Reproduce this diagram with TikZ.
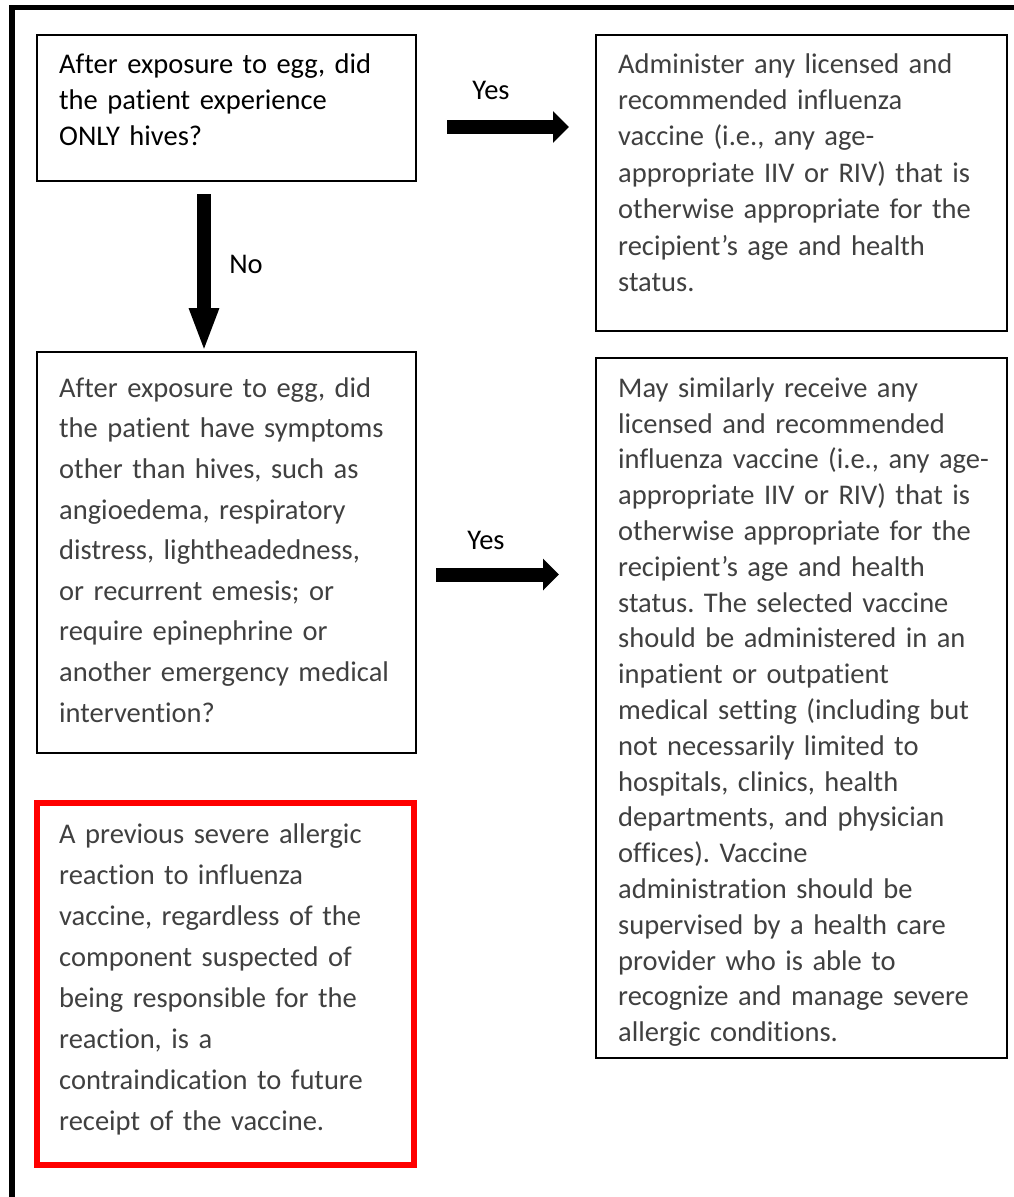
\documentclass[tikz,border=0pt]{standalone}
\usepackage{fontspec}
\setmainfont{Carlito}[Ligatures=NoCommon]
\usetikzlibrary{arrows.meta}
\definecolor{txtgray}{HTML}{404040}
\definecolor{boxred}{HTML}{FF0000}
\frenchspacing
\begin{document}
\begin{tikzpicture}[x=1pt,y=-1pt,
  box/.style={draw=black, line width=2pt, anchor=north west, inner sep=0pt, outer sep=0pt},
  redbox/.style={draw=boxred, line width=6pt, anchor=north west, inner sep=0pt, outer sep=0pt},
  txt/.style={anchor=north west, inner sep=0pt, text width=390pt, align=left},
  fsA/.style={font=\fontsize{28.5}{36.4}\selectfont},
  fsB/.style={font=\fontsize{28.5}{40.6}\selectfont},
  fsC/.style={font=\fontsize{28.5}{35.8}\selectfont},
  fsD/.style={font=\fontsize{28.5}{41.1}\selectfont},
  lbl/.style={font=\fontsize{28.5}{35}\selectfont, inner sep=0pt, anchor=base},
  fatarrow/.style={line width=14pt, -{Triangle[length=16pt,width=31pt]}},
  downarrow/.style={line width=14pt, -{Triangle[length=44pt,width=27pt]}},
]
\useasboundingbox (0,0) rectangle (1013,1197);
\fill[white] (0,0) rectangle (1013,1197);
% outer frame (cropped at right and bottom)
\draw[line width=5.5pt] (12,1220) -- (12,7.5) -- (1040,7.5);

% boxes
\node[box, minimum width=379pt, minimum height=146pt] (b1) at (37,35) {};
\node[box, minimum width=411pt, minimum height=296pt] (b2) at (596,35) {};
\node[box, minimum width=379pt, minimum height=401pt] (b3) at (37,352) {};
\node[box, minimum width=411pt, minimum height=700pt] (b4) at (596,358) {};
\node[redbox, minimum width=377pt, minimum height=362pt] (b5) at (37,803) {};

% texts
\node[txt, fsA, text=black] (t1) at (59,47.5) {\strut After exposure to egg, did\\the patient experience\\ONLY hives?};
\node[txt, fsA, text=txtgray] (t2) at (618,47.5) {\strut Administer any licensed and\\recommended influenza\\vaccine (i.e., any age-\\appropriate IIV or RIV) that is\\otherwise appropriate for the\\recipient’s age and health\\status.};
\node[txt, fsB, text=txtgray] (t3) at (59,368.6) {\strut After exposure to egg, did\\the patient have symptoms\\other than hives, such as\\angioedema, respiratory\\distress, lightheadedness,\\or recurrent emesis; or\\require epinephrine or\\another emergency medical\\intervention?};
\node[txt, fsC, text=txtgray] (t4) at (618,372) {\strut May similarly receive any\\licensed and recommended\\influenza vaccine (i.e., any age-\\appropriate IIV or RIV) that is\\otherwise appropriate for the\\recipient’s age and health\\status. The selected vaccine\\should be administered in an\\inpatient or outpatient\\medical setting (including but\\not necessarily limited to\\hospitals, clinics, health\\departments, and physician\\offices). Vaccine\\administration should be\\supervised by a health care\\provider who is able to\\recognize and manage severe\\allergic conditions.};
\node[txt, fsD, text=txtgray] (t5) at (59,814.2) {\strut A previous severe allergic\\reaction to influenza\\vaccine, regardless of the\\component suspected of\\being responsible for the\\reaction, is a\\contraindication to future\\receipt of the vaccine.};

% arrows
\draw[fatarrow, shorten <=31pt, shorten >=27pt] (b1.east |- 0,127) -- (b2.west |- 0,127);
\draw[downarrow, shorten <=13pt] (b1.south -| 204,0) -- (b3.north -| 204,0);
\draw[fatarrow, shorten <=20pt, shorten >=37pt] (b3.east |- 0,574.5) -- (b4.west |- 0,574.5);

% labels
\node[lbl] (yes1) at (491,99) {Yes};
\node[lbl] (no1) at (246,273) {No};
\node[lbl] (yes2) at (486,549) {Yes};
\end{tikzpicture}
\end{document}
